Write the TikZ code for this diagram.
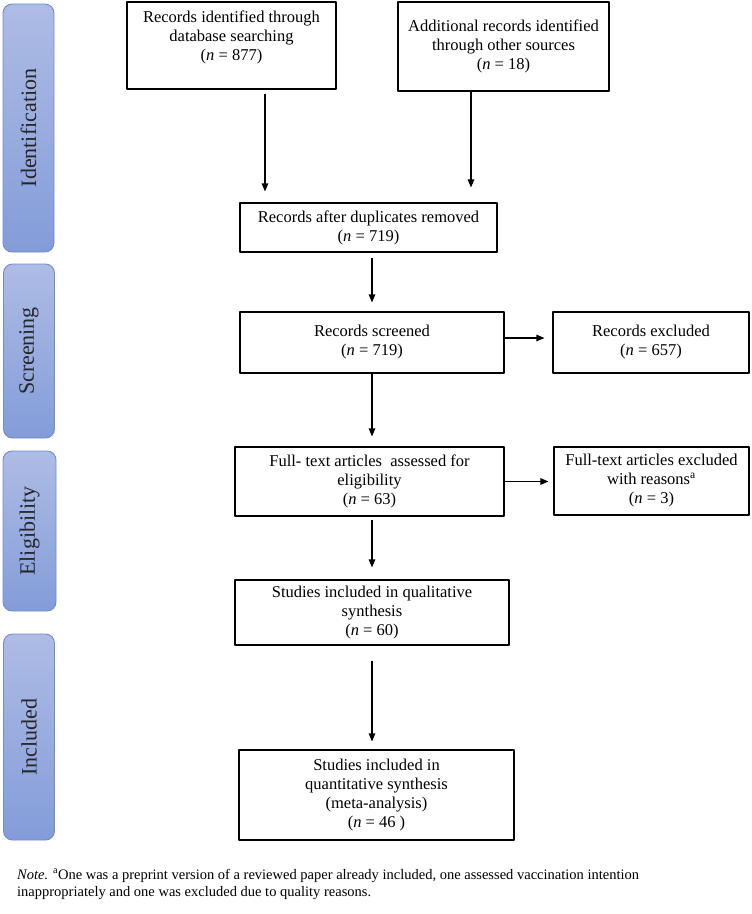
\documentclass[tikz,border=0pt]{standalone}
\usepackage{fontspec}
\setmainfont{Liberation Serif}
\usetikzlibrary{arrows.meta}
\definecolor{barlight}{RGB}{174,188,229}
\definecolor{bardark}{RGB}{131,156,217}
\definecolor{barline}{RGB}{112,140,206}

\begin{document}
\begin{tikzpicture}[x=1pt, y=-1pt, line join=round, >={Triangle[length=8pt,width=6.5pt]}]
	\tikzset{box/.style={draw, line width=1.1pt, align=center, inner sep=2pt, font=\fontsize{16.5}{19}\selectfont},
		stage/.style={draw=barline, line width=0.9pt, rounded corners=9pt, rotate=90, top color=barlight, bottom color=bardark, text=black!85, minimum height=51pt, font=\fontsize{22}{26}\selectfont},
		arr/.style={->, line width=1.1pt}}
	\useasboundingbox (0,0) rectangle (752,914);
	% stages
	\node[stage, minimum width=248pt] (ident) at (28.5,128) {Identification};
	\node[stage, minimum width=174pt] (screen) at (29,351) {Screening};
	\node[stage, minimum width=160pt, minimum height=53pt] (elig) at (29.5,531) {Eligibility};
	\node[stage, minimum width=206pt] (incl) at (29,737) {Included};
	% boxes
	\node[box, minimum width=209pt, minimum height=87pt] (db) at (231.5,45.5) {Records identified through\\ database searching\\ (\textit{n} = 877)\\ \mbox{}};
	\node[box, minimum width=211pt, minimum height=89pt] (other) at (503.5,46.5) {Additional records identified\\ through other sources\\ (\textit{n} = 18)};
	\node[box, minimum width=257pt, minimum height=49pt] (dup) at (368.5,227.5) {Records after duplicates removed\\ (\textit{n} = 719)};
	\node[box, minimum width=264pt, minimum height=61pt] (scr) at (372,342.5) {Records screened\\ (\textit{n} = 719)};
	\node[box, minimum width=196pt, minimum height=61pt] (excl) at (651,342.5) {Records excluded\\ (\textit{n} = 657)};
	\node[box, minimum width=269pt, minimum height=69pt] (ft) at (369.5,481.5) {Full- text articles\ \ assessed for\\ eligibility\\ (\textit{n} = 63)};
	\node[box, minimum width=195pt, minimum height=68pt] (ftex) at (651.5,481) {Full-text articles excluded\\ with reasons\textsuperscript{a}\\ (\textit{n} = 3)};
	\node[box, minimum width=274pt, minimum height=65pt] (qual) at (372,612.5) {Studies included in qualitative\\ synthesis\\ (\textit{n} = 60)};
	\node[box, minimum width=275pt, minimum height=90pt] (quant) at (376.5,795) {Studies included in\\ quantitative synthesis\\ (meta-analysis)\\ (\textit{n} = 46 )};
	% arrows
	\draw[arr, shorten <=4pt, shorten >=11pt] ([xshift=33.5pt]db.south) -- ([xshift=33.5pt]db.south |- dup.north);
	\draw[arr, shorten >=15pt] ([xshift=-32.5pt]other.south) -- ([xshift=-32.5pt]other.south |- dup.north);
	\draw[arr, shorten <=5pt, shorten >=9pt] (dup.south -| scr.north) -- (scr.north);
	\draw[arr, shorten >=10pt] (scr.south) -- (scr.south |- ft.north);
	\draw[arr, shorten <=3pt, shorten >=12pt] (ft.south -| qual.north) -- (qual.north);
	\draw[arr, shorten <=15pt, shorten >=8pt] (qual.south) -- (qual.south |- quant.north);
	\draw[arr, shorten >=8pt] ([yshift=4.5pt]scr.east) -- ([yshift=4.5pt]scr.east -| excl.west);
	\draw[arr, shorten >=5pt] (ft.east) -- (ft.east -| ftex.west);
	% note
	\node[anchor=base west, align=left, inner sep=0pt, font=\fontsize{14.5}{17}\selectfont] (note) at (17,896) {\textit{Note.} \textsuperscript{a}One was a preprint version of a reviewed paper already included, one assessed vaccination intention\\ inappropriately and one was excluded due to quality reasons.};
\end{tikzpicture}
\end{document}
